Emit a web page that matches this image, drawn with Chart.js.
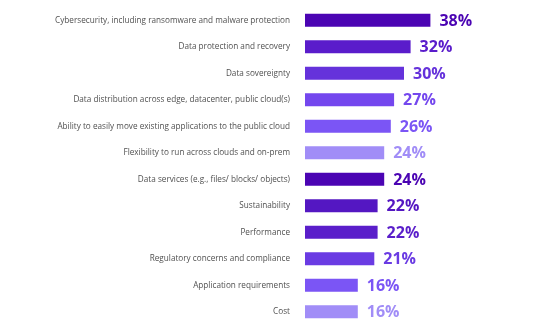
<!DOCTYPE html>
<html>
<head>
<meta charset="utf-8">
<script src="https://cdn.jsdelivr.net/npm/chart.js@4"></script>
<style>
  html, body { margin: 0; padding: 0; background: #fff; }
  #wrap { width: 540px; height: 332px; }
</style>
</head>
<body>
<div id="wrap"><canvas id="barChart" width="540" height="332"></canvas></div>
<script>
const categories = [
    'Cybersecurity, including ransomware and malware protection',
    'Data protection and recovery',
    'Data sovereignty',
    'Data distribution across edge, datacenter, public cloud(s)',
    'Ability to easily move existing applications to the public cloud',
    'Flexibility to run across clouds and on-prem',
    'Data services (e.g., files/ blocks/ objects)',
    'Sustainability',
    'Performance',
    'Regulatory concerns and compliance',
    'Application requirements',
    'Cost'
];
const values = [38, 32, 30, 27, 26, 24, 24, 22, 22, 21, 16, 16];
const barColors = [
    '#4b04b3', '#5a1ccb', '#6532db', '#7447ee', '#7b55f5', '#a18df7',
    '#4b04b3', '#5417c2', '#5a1eca', '#6a3be3', '#7b55f5', '#a18df7'
];

document.addEventListener('DOMContentLoaded', () => {
    const canvas = document.getElementById('barChart');
    const ctx = canvas.getContext('2d');

    new Chart(ctx, {
        type: 'bar',
        data: {
            labels: categories,
            datasets: [{
                data: values,
                backgroundColor: barColors,
                borderWidth: 0,
                barPercentage: 0.49,
                categoryPercentage: 1.0,
            }]
        },
        options: {
            indexAxis: 'y',
            responsive: false,
            animation: false,
            layout: {
                padding: { top: 7, right: 70, bottom: 7, left: 0 }
            },
            scales: {
                x: {
                    min: 0,
                    max: 50,
                    display: false,
                },
                y: {
                    grid: { display: false },
                    border: { display: false },
                    ticks: {
                        padding: 7,
                        color: '#505050',
                        font: { family: 'Open Sans', size: 8.2 },
                    },
                    afterFit: (scale) => {
                        scale.width = 305;
                        scale.paddingTop = 0;
                        scale.paddingBottom = 0;
                    }
                }
            },
            plugins: {
                legend: { display: false },
                tooltip: { enabled: false }
            }
        },
        plugins: [{
            id: 'valueLabels',
            afterDatasetsDraw: (chart) => {
                const c = chart.ctx;
                const meta = chart.getDatasetMeta(0);
                c.save();
                c.font = 'bold 16px "Open Sans"';
                c.textAlign = 'left';
                c.textBaseline = 'middle';
                meta.data.forEach((bar, i) => {
                    c.fillStyle = barColors[i];
                    c.fillText(values[i] + '%', bar.x + 9, bar.y + 1);
                });
                c.restore();
            }
        }]
    });
});
</script>
</body>
</html>
